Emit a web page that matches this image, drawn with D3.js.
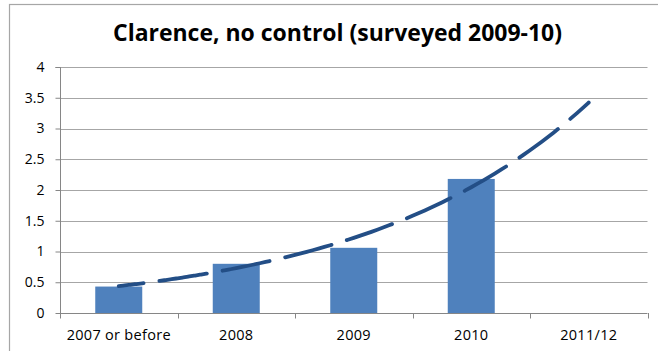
<!DOCTYPE html>
<html>
<head>
<meta charset="utf-8">
<script src="https://cdn.jsdelivr.net/npm/d3@7"></script>
<style>
  html, body { margin: 0; padding: 0; background: #fff; }
  svg { display: block; }
  text { font-family: "Open Sans", "DejaVu Sans", sans-serif; fill: #000; }
</style>
</head>
<body>
<svg id="chart" width="658" height="351"></svg>
<script>
// Survey results by year of occurrence
const categories = ["2007 or before", "2008", "2009", "2010", "2011/12"];
const values = [0.43, 0.80, 1.06, 2.18, null];
const yTicks = [0, 0.5, 1, 1.5, 2, 2.5, 3, 3.5, 4];
const title = "Clarence, no control (surveyed 2009-10)";

const W = 658, H = 351;
const plot = { left: 60, right: 647.5, top: 67, bottom: 313 };

const svg = d3.select("#chart");
svg.append("rect").attr("width", W).attr("height", H).attr("fill", "#fff");

// chart frame
svg.append("rect")
  .attr("x", 9.5).attr("y", 4.5)
  .attr("width", W + 20).attr("height", H + 20)
  .attr("fill", "none").attr("stroke", "#a6a6a6").attr("stroke-width", 1.2);

const x = d3.scaleBand().domain(categories)
  .range([plot.left, plot.right]).paddingInner(0.6).paddingOuter(0.3);
const y = d3.scaleLinear().domain([0, 4]).range([plot.bottom, plot.top]);

// horizontal gridlines
svg.append("g").selectAll("line").data(yTicks.filter(d => d > 0)).join("line")
  .attr("x1", plot.left).attr("x2", plot.right)
  .attr("y1", d => Math.round(y(d)) + 0.5).attr("y2", d => Math.round(y(d)) + 0.5)
  .attr("stroke", "#a6a6a6").attr("stroke-width", 1);

// bars
svg.append("g").selectAll("rect").data(categories.map((c, i) => ({ c, v: values[i] })).filter(d => d.v != null))
  .join("rect")
  .attr("x", d => x(d.c)).attr("width", x.bandwidth())
  .attr("y", d => y(d.v)).attr("height", d => y(0) - y(d.v))
  .attr("fill", "#4f81bd");

// y axis
const yAxis = d3.axisLeft(y).tickValues(yTicks).tickSize(5).tickPadding(11)
  .tickFormat(d3.format("~g"));
const gy = svg.append("g").attr("transform", `translate(${plot.left + 0.5},0)`).call(yAxis);
gy.select(".domain").attr("stroke", "#868686").attr("d", `M-5,${plot.top}.5H0V${plot.bottom}.5`);
gy.selectAll(".tick line").attr("stroke", "#868686");
gy.selectAll(".tick text").style("font-size", "14px").style("font-family", "\"Open Sans\", sans-serif").attr("fill", "#000");

// x axis with ticks at category boundaries
const step = (plot.right - plot.left) / categories.length;
const gx = svg.append("g");
gx.append("line").attr("x1", plot.left).attr("x2", plot.right)
  .attr("y1", plot.bottom + 0.5).attr("y2", plot.bottom + 0.5).attr("stroke", "#868686");
gx.selectAll("line.tk").data(d3.range(categories.length + 1)).join("line").attr("class", "tk")
  .attr("x1", i => Math.round(plot.left + i * step) + 0.5).attr("x2", i => Math.round(plot.left + i * step) + 0.5)
  .attr("y1", plot.bottom).attr("y2", plot.bottom + 5.5).attr("stroke", "#868686");
gx.selectAll("text").data(categories).join("text")
  .attr("x", c => x(c) + x.bandwidth() / 2).attr("y", 340)
  .attr("text-anchor", "middle").style("font-size", "14.5px").style("letter-spacing", "0.3px").text(c => c);

// exponential trendline fitted to the observed years, forecast one period ahead
const obs = values.map((v, i) => ({ t: i + 1, v })).filter(d => d.v != null);
const mt = d3.mean(obs, d => d.t), ml = d3.mean(obs, d => Math.log(d.v));
const b = d3.sum(obs, d => (d.t - mt) * (Math.log(d.v) - ml)) / d3.sum(obs, d => (d.t - mt) ** 2);
const a = Math.exp(ml - b * mt);
const tx = d3.scaleLinear().domain([1, categories.length])
  .range([x(categories[0]) + x.bandwidth() / 2, x(categories[categories.length - 1]) + x.bandwidth() / 2]);
const ts = d3.range(1, categories.length + 0.001, 0.05);
const line = d3.line().x(t => tx(t)).y(t => y(a * Math.exp(b * t))).curve(d3.curveMonotoneX);
svg.append("path").attr("d", line(ts))
  .attr("fill", "none").attr("stroke", "#234e86").attr("stroke-width", 3.8)
  .attr("stroke-linecap", "round").attr("stroke-dasharray", "48,16").attr("stroke-dashoffset", 23);

// title
const tt = svg.append("text").attr("x", 337.5).attr("y", 41).attr("text-anchor", "middle")
  .style("font-size", "20px").style("font-weight", "bold").text(title);
const tw = tt.node().getComputedTextLength();
tt.style("font-size", (20 * 449 / tw).toFixed(2) + "px");
</script>
</body>
</html>
